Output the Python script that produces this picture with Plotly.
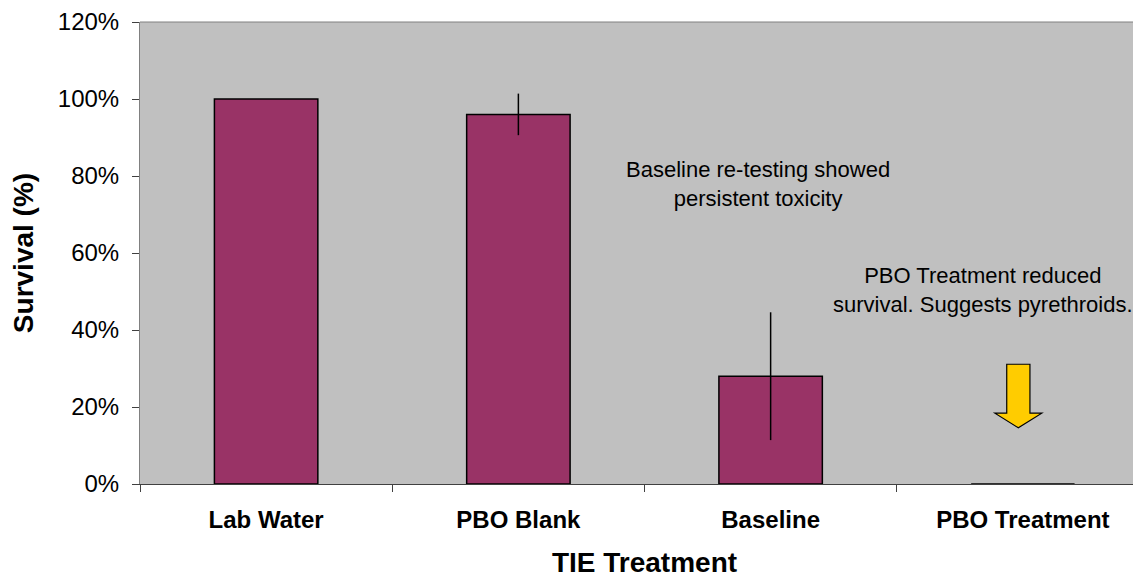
import plotly.graph_objects as go

categories = ["Lab Water", "PBO Blank", "Baseline", "PBO Treatment"]
survival = [100, 96, 28, 0]
error = [0, 5.4, 16.6, 0]
y_ticks = [0, 20, 40, 60, 80, 100, 120]

FONT = "Arial, Liberation Sans, sans-serif"

fig = go.Figure()
fig.add_trace(go.Bar(
    x=categories, y=survival, width=0.41,
    marker=dict(color="#993366", line=dict(color="black", width=1.5)),
    error_y=dict(type="data", array=error, visible=True, color="black", thickness=1.5, width=0),
    showlegend=False, hoverinfo="skip",
))
# invisible helper trace on numeric overlay axis for arrow / notes
fig.add_trace(go.Scatter(x=[0], y=[0], xaxis="x2", mode="markers",
                         marker=dict(opacity=0), showlegend=False, hoverinfo="skip"))

# yellow arrow (data coords on the numeric overlay axis)
cx = 2.982
sw, hw = 0.046, 0.093
top, neck, tip = 31.1, 18.4, 14.6
path = (f"M {cx-sw},{top} L {cx+sw},{top} L {cx+sw},{neck} L {cx+hw},{neck} "
        f"L {cx},{tip} L {cx-hw},{neck} L {cx-sw},{neck} Z")
fig.add_shape(type="path", path=path, xref="x2", yref="y",
              fillcolor="#FFCC00", line=dict(color="black", width=1.2))

fig.add_annotation(x=1.948, y=78, xref="x2", yref="y",
                   text="Baseline re-testing showed<br>persistent toxicity",
                   showarrow=False, font=dict(family=FONT, size=22, color="black"))
fig.add_annotation(x=2.84, y=50.3, xref="x2", yref="y",
                   text="PBO Treatment reduced<br>survival. Suggests pyrethroids.",
                   showarrow=False, font=dict(family=FONT, size=22, color="black"))

fig.update_layout(
    width=1141, height=579,
    margin=dict(l=132, r=0, t=14, b=103),
    paper_bgcolor="white", plot_bgcolor="#C0C0C0",
    font=dict(family=FONT, color="black"),
    xaxis=dict(
        type="category", range=[-0.5, 3.5], tickson="boundaries",
        ticks="outside", ticklen=7, tickcolor="#404040",
        showline=True, linecolor="#404040", linewidth=1, mirror=False,
        showgrid=False, ticklabelstandoff=14, automargin=False,
        tickfont=dict(family=FONT, size=24, color="black", weight="bold"),
        title=dict(text="<b>TIE Treatment</b>", font=dict(family=FONT, size=28, color="black"), standoff=20),
    ),
    xaxis2=dict(overlaying="x", range=[-0.5, 3.5], visible=False, showgrid=False),
    yaxis=dict(
        range=[0, 120], tickvals=y_ticks, ticktext=[f"{v}%" for v in y_ticks],
        ticks="outside", ticklen=7, tickcolor="#404040",
        showline=True, linecolor="#808080", linewidth=1,
        showgrid=False, zeroline=False, ticklabelstandoff=8,
        ticklabeloverflow="allow", automargin=False,
        tickfont=dict(family=FONT, size=24, color="black"),
        title=dict(text="<b>Survival (%)</b>", font=dict(family=FONT, size=28, color="black"), standoff=19),
    ),
)
# top border line
fig.add_shape(type="line", xref="paper", yref="paper", x0=0, x1=1, y0=1, y1=1,
              line=dict(color="#808080", width=1))

fig.write_html("out.html")
